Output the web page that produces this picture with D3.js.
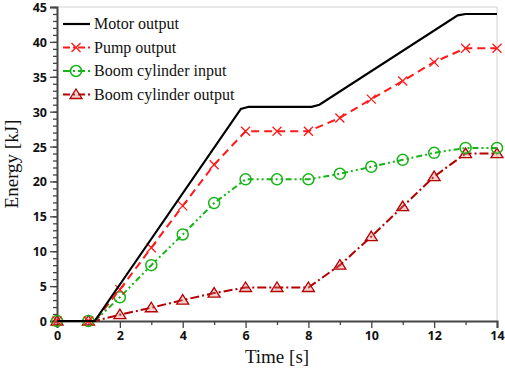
<!DOCTYPE html>
<html>
<head>
<meta charset="utf-8">
<script src="https://cdn.jsdelivr.net/npm/d3@7"></script>
<style>
	body { margin: 0; background: #fff; }
	.tick text { font-family: "Open Sans", sans-serif; font-weight: 700; font-size: 12.5px; fill: #111; }
	.axis-title, .legend text { font-family: "Liberation Serif", "Times New Roman", serif; fill: #111; }
</style>
</head>
<body>
<div id="chart"></div>
<script>
// Marker times (s)
var times = [0, 1, 2, 3, 4, 5, 6, 7, 8, 9, 10, 11, 12, 13, 14];

// Series values at the marker times (kJ)
var pumpOutput = [0, 0, 4.5, 10.5, 16.5, 22.4, 27.2, 27.2, 27.2, 29.1, 31.8, 34.4, 37.1, 39.1, 39.1];
var boomInput = [0, 0, 3.4, 8.0, 12.4, 16.9, 20.3, 20.3, 20.3, 21.1, 22.1, 23.1, 24.1, 24.8, 24.8];
var boomOutput = [0, 0, 0.9, 1.9, 3.0, 4.0, 4.8, 4.8, 4.8, 8.0, 12.1, 16.4, 20.7, 24.0, 24.0];

// Motor output has no markers, only the curve's break points
var motorTimes = [0, 1.2, 5.85, 6.1, 8.1, 8.35, 12.75, 13.0, 14];
var motorOutput = [0, 0, 30.4, 30.7, 30.7, 31.0, 43.8, 44.0, 44.0];

// Time where the marked curves leave zero
var onsetTime = 1.2;

var xTicks = [0, 2, 4, 6, 8, 10, 12, 14];
var yTicks = [0, 5, 10, 15, 20, 25, 30, 35, 40, 45];

var seriesNames = ["Motor output", "Pump output", "Boom cylinder input", "Boom cylinder output"];

var width = 505, height = 368;
var margin = {top: 7, right: 8, bottom: 47, left: 57};
var w = width - margin.left - margin.right,
		h = height - margin.top - margin.bottom;

var x = d3.scaleLinear().domain([0, 14]).range([0, w]);
var y = d3.scaleLinear().domain([0, 45]).range([h, 0]);

var svg = d3.select("#chart").append("svg")
		.attr("width", width)
		.attr("height", height);

var g = svg.append("g")
		.attr("transform", "translate(" + margin.left + "," + margin.top + ")");

// Frame (top and right edges are light)
g.append("line").attr("x1", 0).attr("x2", w).attr("y1", 0).attr("y2", 0)
		.attr("stroke", "#e0e0e0").attr("stroke-width", 1.5);
g.append("line").attr("x1", w).attr("x2", w).attr("y1", 0).attr("y2", h)
		.attr("stroke", "#e0e0e0").attr("stroke-width", 1.5);

// Minor ticks
g.append("g")
		.attr("class", "minor")
		.attr("transform", "translate(0," + h + ")")
		.call(d3.axisBottom(x).tickValues(d3.range(1, 14, 2)).tickSize(4).tickFormat(""))
		.call(function(s) { s.select(".domain").remove(); });
g.append("g")
		.attr("class", "minor")
		.call(d3.axisLeft(y).tickValues(d3.range(0, 46, 1)).tickSize(4).tickFormat(""))
		.call(function(s) { s.select(".domain").remove(); });

// Major axes
var xAxisG = g.append("g")
		.attr("transform", "translate(0," + h + ")")
		.call(d3.axisBottom(x).tickValues(xTicks).tickSize(7).tickPadding(3).tickFormat(d3.format("d")));
var yAxisG = g.append("g")
		.call(d3.axisLeft(y).tickValues(yTicks).tickSize(7).tickPadding(3).tickFormat(d3.format("d")));

g.selectAll(".domain").attr("stroke", "#444").attr("stroke-width", 2);
g.selectAll(".tick line").attr("stroke", "#444").attr("stroke-width", 1.3);
yAxisG.selectAll(".tick text").attr("dy", "0.36em");

// Axis titles
svg.append("text")
		.attr("class", "axis-title")
		.attr("x", margin.left + w / 2)
		.attr("y", 363)
		.attr("text-anchor", "middle")
		.style("font-size", "19px")
		.text("Time [s]");
svg.append("text")
		.attr("class", "axis-title")
		.attr("transform", "translate(18," + (margin.top + h / 2) + ") rotate(-90)")
		.attr("text-anchor", "middle")
		.style("font-size", "19px")
		.text("Energy [kJ]");

// Series styling
var styles = [
	{color: "#000000", dash: null, marker: null, width: 2.2},
	{color: "#ff1a1a", dash: "8,5", marker: "cross", width: 2},
	{color: "#17b317", dash: "6,3,2,3,2,3", marker: "circle", width: 2},
	{color: "#b30000", dash: "9,3,2,3", marker: "triangle", width: 2}
];

function markedLine(values) {
	var pts = times.map(function(t, i) { return [t, values[i]]; });
	// insert the flat onset point between 1 s and 2 s
	pts.splice(2, 0, [onsetTime, 0]);
	return pts;
}

var lineData = [
	motorTimes.map(function(t, i) { return [t, motorOutput[i]]; }),
	markedLine(pumpOutput),
	markedLine(boomInput),
	markedLine(boomOutput)
];
var markerData = [
	[],
	times.map(function(t, i) { return [t, pumpOutput[i]]; }),
	times.map(function(t, i) { return [t, boomInput[i]]; }),
	times.map(function(t, i) { return [t, boomOutput[i]]; })
];

var line = d3.line()
		.x(function(d) { return x(d[0]); })
		.y(function(d) { return y(d[1]); });

var body = g.append("g").attr("class", "chart-body");

function drawMarker(sel, type, color) {
	if (type === "cross") {
		sel.append("path")
				.attr("d", "M-4.5,-4.5L4.5,4.5M-4.5,4.5L4.5,-4.5")
				.attr("stroke", color).attr("stroke-width", 1.3).attr("fill", "none");
	} else if (type === "circle") {
		sel.append("circle")
				.attr("r", 5.5)
				.attr("stroke", color).attr("stroke-width", 1.5).attr("fill", "none");
	} else if (type === "triangle") {
		sel.append("path")
				.attr("d", "M0,-5.5L6,4L-6,4Z")
				.attr("stroke", color).attr("stroke-width", 1.3).attr("fill", "rgba(230,120,120,0.35)");
	}
}

// draw in reverse so the motor line sits on top
d3.range(3, -1, -1).forEach(function(k) {
	var st = styles[k];
	body.append("path")
			.datum(lineData[k])
			.attr("d", line)
			.attr("fill", "none")
			.attr("stroke", st.color)
			.attr("stroke-width", st.width)
			.attr("stroke-dasharray", st.dash);
	if (st.marker) {
		body.selectAll(".m" + k)
			.data(markerData[k])
			.enter().append("g")
				.attr("class", "m" + k)
				.attr("transform", function(d) { return "translate(" + x(d[0]) + "," + y(d[1]) + ")"; })
				.each(function() { drawMarker(d3.select(this), st.marker, st.color); });
	}
});

// Legend
var legend = svg.append("g")
		.attr("class", "legend")
		.attr("transform", "translate(63,24)");

var legendGroup = legend.selectAll(".legend-group")
		.data(seriesNames)
		.enter().append("g")
			.attr("class", "legend-group")
			.attr("transform", function(d, i) { return "translate(0," + i * 23.5 + ")"; });

legendGroup.append("line")
		.attr("x1", 0).attr("x2", 27).attr("y1", 0).attr("y2", 0)
		.attr("stroke", function(d, i) { return styles[i].color; })
		.attr("stroke-width", function(d, i) { return styles[i].width; })
		.attr("stroke-dasharray", function(d, i) { return styles[i].dash ? "7,3,2,3" : null; });

legendGroup.each(function(d, i) {
	if (styles[i].marker) {
		var m = d3.select(this).append("g").attr("transform", "translate(13,0)");
		drawMarker(m, styles[i].marker, styles[i].color);
	}
});

legendGroup.append("text")
		.attr("x", 31)
		.attr("y", 0)
		.attr("dy", "0.33em")
		.style("font-size", "16px")
		.text(function(d) { return d; });
</script>
</body>
</html>
